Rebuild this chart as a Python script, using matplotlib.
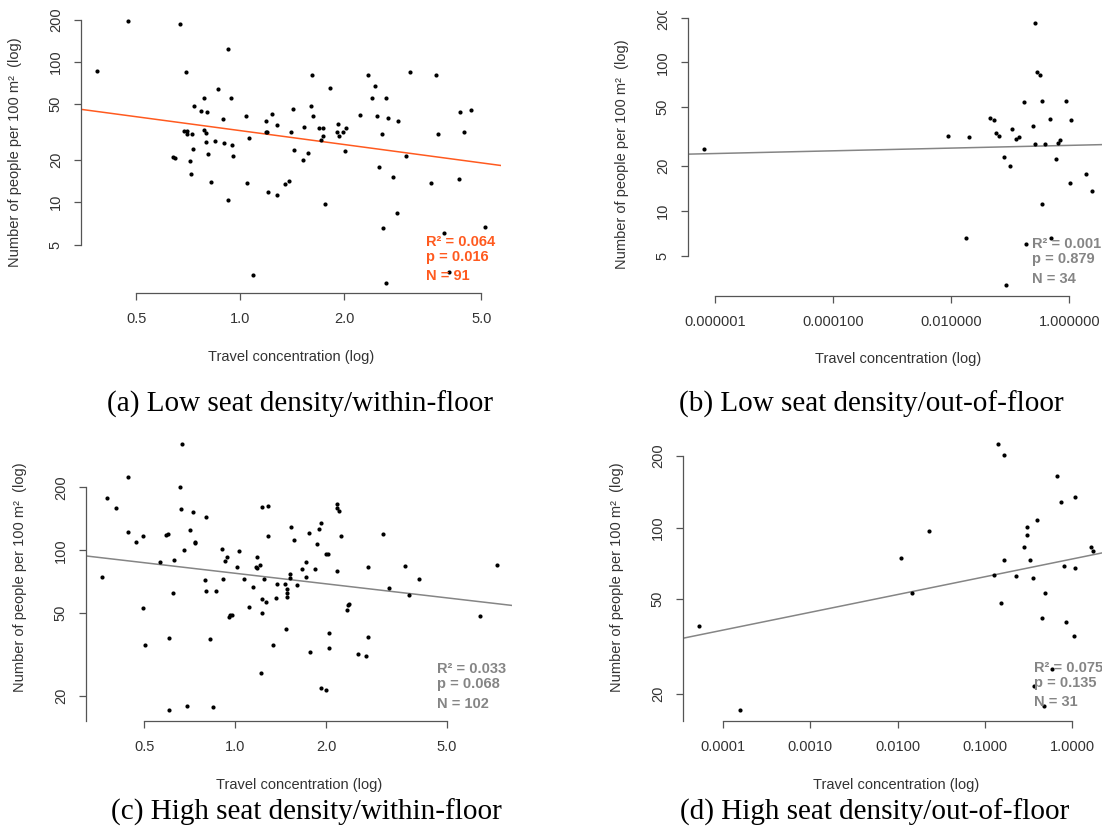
import numpy as np
import matplotlib
matplotlib.use("Agg")
import matplotlib.pyplot as plt
from matplotlib.ticker import NullLocator
from matplotlib.transforms import Bbox

plt.rcParams['font.family'] = ['Liberation Sans', 'DejaVu Sans']

W, H = 1102, 826

# (a) low seat density / within-floor
a_travel = [0.384, 0.473, 0.670, 0.698, 0.921, 0.865, 0.785, 0.944, 0.737, 0.769,
            0.802, 0.688, 0.702, 0.704, 0.724, 0.785, 0.795, 0.895, 0.799, 0.845,
            0.899, 0.946, 0.732, 0.810, 0.956, 0.638, 0.648, 0.718, 0.721, 0.822,
            0.925, 1.041, 1.060, 1.050, 1.093, 1.192, 1.187, 1.195, 1.241, 1.283,
            1.203, 1.277, 1.353, 1.384, 1.405, 1.428, 1.434, 1.533, 1.526, 1.571,
            1.614, 1.603, 1.624, 1.819, 1.698, 1.736, 1.713, 1.744, 1.759, 1.928,
            1.906, 1.936, 1.989, 2.033, 2.015, 2.227, 2.350, 2.457, 2.408, 2.489,
            2.650, 2.685, 2.877, 2.586, 2.529, 2.771, 3.034, 2.852, 2.603, 2.650,
            3.116, 3.700, 3.741, 3.586, 3.886, 4.035, 4.332, 4.673, 4.461, 4.322,
            5.140]
a_people = [86.5, 195, 187, 85.1, 123, 63.7, 55.3, 55.3, 48.2, 44.7,
            43.9, 32.4, 32.4, 30.5, 30.5, 32.9, 31.3, 39.0, 26.9, 27.3,
            26.4, 25.7, 23.8, 22.1, 21.4, 21.0, 20.5, 19.8, 16.0, 13.9,
            10.4, 41.4, 28.7, 13.7, 3.04, 37.7, 31.5, 31.5, 42.5, 35.5,
            11.9, 11.2, 13.5, 14.1, 31.8, 46.2, 23.4, 34.4, 20.1, 22.4,
            80.2, 48.2, 41.4, 65.5, 33.8, 33.8, 27.9, 29.5, 9.78, 36.1,
            31.5, 29.5, 31.8, 33.8, 23.1, 41.8, 80.2, 67.7, 55.3, 41.4,
            55.3, 40.1, 37.7, 30.5, 17.7, 15.2, 21.4, 8.35, 6.53, 2.68,
            85.1, 80.8, 30.8, 13.7, 6.08, 3.18, 43.9, 45.4, 31.8, 14.6,
            6.64]

# (b) low seat density / out-of-floor
b_travel = [6.4e-7, 0.00869, 0.0203, 0.0444, 0.0536, 0.0565, 0.0638, 0.108, 0.125, 0.139,
            0.170, 0.0771, 0.0995, 0.01774, 0.0836, 0.239, 0.266, 0.284, 0.321, 0.339,
            0.266, 0.393, 0.461, 0.339, 0.487, 0.187, 0.596, 0.638, 0.682, 0.869,
            1.064, 1.007, 1.87, 2.45]
b_people = [26.3, 32.1, 31.3, 42.2, 41.2, 33.6, 32.1, 35.6, 30.3, 31.6,
            54.1, 23.1, 20.2, 6.58, 3.18, 37.1, 184, 85.6, 81.8, 55.2,
            28.2, 28.2, 41.8, 11.1, 6.58, 6.03, 22.4, 28.7, 30.2, 55.2,
            41.2, 15.4, 17.7, 13.6]

# (c) high seat density / within-floor
c_travel = [0.3625, 0.3776, 0.4032, 0.4428, 0.4428, 0.4717, 0.4975, 0.4963, 0.5025, 0.566,
            0.591, 0.598, 0.629, 0.6246, 0.6045, 0.603, 0.669, 0.655, 0.662, 0.727,
            0.709, 0.738, 0.736, 0.679, 0.695, 0.802, 0.794, 0.798, 0.825, 0.846,
            0.866, 0.904, 0.908, 0.922, 0.941, 0.951, 0.963, 0.975, 1.013, 1.026,
            1.065, 1.109, 1.144, 1.179, 1.167, 1.179, 1.203, 1.224, 1.281, 1.278,
            1.243, 1.221, 1.259, 1.221, 1.218, 1.331, 1.362, 1.369, 1.465, 1.458,
            1.476, 1.476, 1.476, 1.511, 1.511, 1.530, 1.557, 1.593, 1.663, 1.710,
            1.714, 1.745, 1.763, 1.830, 1.858, 1.887, 1.921, 1.916, 1.990, 2.021,
            1.990, 2.036, 2.046, 2.163, 2.174, 2.197, 2.159, 2.225, 2.334, 2.370,
            2.358, 2.538, 2.703, 2.745, 2.752, 3.083, 3.211, 3.625, 3.746, 4.043,
            6.424, 7.289]
c_people = [74.7, 178, 159, 224, 122.9, 109.6, 117.6, 53.1, 35.0, 88.2,
            118.0, 119.8, 90.2, 62.6, 38.1, 17.1, 323, 202, 157, 152.8,
            125.7, 108.0, 109.6, 100.7, 18.0, 145, 71.8, 64.0, 37.7, 17.7,
            64.0, 101.9, 73.1, 88.9, 92.6, 47.9, 48.8, 48.9, 82.9, 99.6,
            73.1, 53.7, 66.7, 92.9, 83.2, 82.0, 84.7, 160.8, 163.8, 116.7,
            73.1, 58.2, 56.3, 49.8, 25.7, 35.0, 58.8, 68.7, 41.8, 68.7,
            65.2, 62.4, 59.5, 77.0, 73.7, 129.4, 111.7, 67.9, 81.1, 88.2,
            74.7, 121.6, 32.6, 81.1, 107.3, 126.6, 134.8, 21.8, 95.7, 96.4,
            21.3, 40.1, 34.2, 166.3, 159.7, 153.9, 79.6, 117.6, 51.9, 55.3,
            54.6, 31.9, 31.0, 82.9, 38.4, 120.2, 65.9, 83.8, 61.2, 73.1,
            48.4, 85.3]

# (d) high seat density / out-of-floor
d_travel = [5.34e-5, 1.562e-4, 0.0111, 0.0146, 0.0228, 0.1272, 0.1405, 0.164, 0.1655, 0.1511,
            0.2275, 0.283, 0.2989, 0.2989, 0.3243, 0.3585, 0.3963, 0.4797, 0.4498, 0.6714,
            0.7423, 0.7907, 0.8506, 1.029, 1.068, 1.068, 1.637, 1.729, 0.5804, 0.365,
            0.471]
d_people = [38.4, 17.1, 74.5, 52.9, 97.1, 63.4, 224, 203, 73.3, 48.2,
            62.8, 83.2, 100.6, 92.8, 73.3, 61.2, 107.4, 53.2, 41.8, 164.5,
            127.8, 68.7, 40.2, 35.1, 134.6, 67.6, 83.2, 79.5, 25.5, 21.6,
            17.7]

r2_values = ['0.064', '0.001', '0.033', '0.075']
p_values = ['0.016', '0.879', '0.068', '0.135']

captions = ['(a) Low seat density/within-floor', '(b) Low seat density/out-of-floor',
            '(c) High seat density/within-floor', '(d) High seat density/out-of-floor']

wide_ticks = [0.5, 1.0, 2.0, 5.0]
wide_labels = ['0.5', '1.0', '2.0', '5.0']
b_ticks = [1e-6, 1e-4, 1e-2, 1.0]
b_labels = ['0.000001', '0.000100', '0.010000', '1.000000']
d_ticks = [1e-4, 1e-3, 1e-2, 1e-1, 1.0]
d_labels = ['0.0001', '0.0010', '0.0100', '0.1000', '1.0000']
low_yticks = [5, 10, 20, 50, 100, 200]
high_yticks = [20, 50, 100, 200]

AXIS = '#555555'
TEXT = '#333333'
ORANGE = '#ff5a1f'
GREY = '#858585'


def r_limits(v):
    # R's default 4% extension of the data range, in log space
    lo, hi = np.log10(min(v)), np.log10(max(v))
    pad = 0.04 * (hi - lo)
    return 10 ** (lo - pad), 10 ** (hi + pad)


def fig_xy(x, y):
    return x / W, 1 - y / H


def panel(box, travel, people, xticks, xlabels, yticks, color, stats, text_x, baselines,
          y_to_bottom=False):
    left, top, right, bottom = box
    w, h = right - left, bottom - top
    ax = fig.add_axes([left / W, 1 - bottom / H, w / W, h / H])
    ax.set_xscale('log')
    ax.set_yscale('log')
    ax.set_xlim(r_limits(travel))
    ax.set_ylim(r_limits(people))
    ax.set_facecolor('none')

    ax.plot(travel, people, 'o', ms=3.0, mew=0, color='black', zorder=3)

    # least-squares fit on the log-log values, drawn across the whole panel
    slope, icpt = np.polyfit(np.log10(travel), np.log10(people), 1)
    xs = np.array(ax.get_xlim())
    ax.plot(xs, 10 ** (icpt + slope * np.log10(xs)), color=color, lw=1.1, zorder=2)

    ax.set_xticks(xticks)
    ax.set_xticklabels(xlabels)
    ax.set_yticks(yticks)
    ax.set_yticklabels([str(t) for t in yticks], rotation=90, va='center')
    ax.xaxis.set_minor_locator(NullLocator())
    ax.yaxis.set_minor_locator(NullLocator())
    ax.tick_params(direction='out', length=5, width=0.9, color=AXIS,
                   labelsize=10.5, labelcolor=TEXT)
    ax.tick_params(axis='x', pad=9)
    ax.tick_params(axis='y', pad=8)

    for side in ('top', 'right'):
        ax.spines[side].set_visible(False)
    for side in ('left', 'bottom'):
        ax.spines[side].set_color(AXIS)
        ax.spines[side].set_linewidth(0.9)
    ax.spines['bottom'].set_bounds(xticks[0], xticks[-1])
    ylo = ax.get_ylim()[0] if y_to_bottom else yticks[0]
    ax.spines['left'].set_bounds(ylo, yticks[-1])

    ax.set_xlabel('Travel concentration (log)', fontsize=10.5, color=TEXT, va='center')
    ax.xaxis.set_label_coords(0.5, -64 / h)
    ax.set_ylabel('Number of people per 100 m²  (log)', fontsize=10.5, color=TEXT, va='center')
    ax.yaxis.set_label_coords(-66 / w, 0.5)

    r2, p = stats
    lines = ['R² = ' + r2, 'p = ' + p, 'N = %d' % len(travel)]
    for s, yb in zip(lines, baselines):
        fig.text(*fig_xy(text_x, yb), s, fontsize=10.5, fontweight='bold', color=color,
                 va='baseline', ha='left')
    return ax


fig = plt.figure(figsize=(W / 100, H / 100), dpi=100)

panel((81, 10.6, 501, 293), a_travel, a_people, wide_ticks, wide_labels, low_yticks,
      ORANGE, (r2_values[0], p_values[0]), 426, (246.5, 261, 280))
ax_b = panel((688, 12.5, 1108, 295.5), b_travel, b_people, b_ticks, b_labels, low_yticks,
             GREY, (r2_values[1], p_values[1]), 1032.5, (248.3, 263.3, 282.7))
panel((86, 433.3, 512.4, 721), c_travel, c_people, wide_ticks, wide_labels, high_yticks,
      GREY, (r2_values[2], p_values[2]), 437.3, (672.7, 688.3, 707.7), y_to_bottom=True)
panel((683, 433.8, 1109, 720.5), d_travel, d_people, d_ticks, d_labels, high_yticks,
      GREY, (r2_values[3], p_values[3]), 1034.5, (671.7, 686.7, 705.7), y_to_bottom=True)

# the top of panel (b) is trimmed just above its "200" tick label
trim = Bbox.from_extents(0, 0, W, H - 10.5)
for lab in ax_b.get_yticklabels():
    lab.set_clip_box(trim)
    lab.set_clip_on(True)

for (cx, cy), cap in zip([(300, 404), (871, 404), (306, 812), (875, 812)], captions):
    fig.text(*fig_xy(cx, cy), cap, fontsize=21, family='Liberation Serif',
             ha='center', va='center', color='black')

fig.savefig('out.png', dpi=100)
